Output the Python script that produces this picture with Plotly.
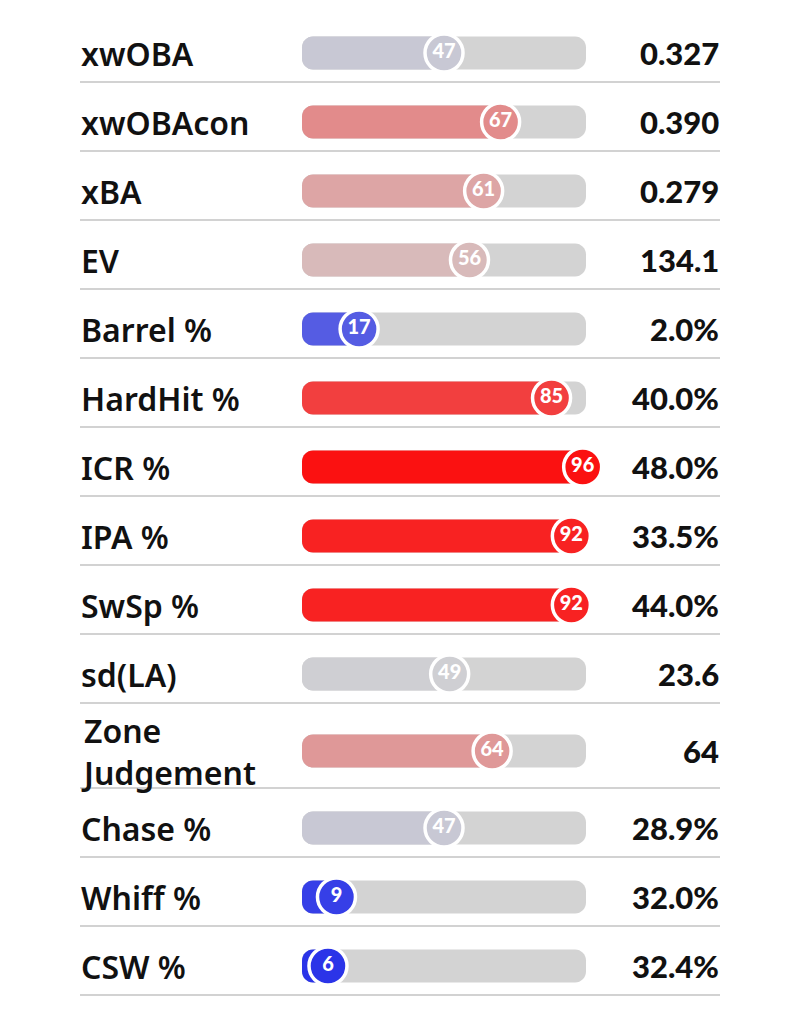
import plotly.graph_objects as go
from plotly.colors import sample_colorscale

# ---- data ----
metrics = ["xwOBA", "xwOBAcon", "xBA", "EV", "Barrel %", "HardHit %", "ICR %",
           "IPA %", "SwSp %", "sd(LA)", "Zone<br>Judgement", "Chase %", "Whiff %", "CSW %"]
percentiles = [47, 67, 61, 56, 17, 85, 96, 92, 92, 49, 64, 47, 9, 6]
values = ["0.327", "0.390", "0.279", "134.1", "2.0%", "40.0%", "48.0%",
          "33.5%", "44.0%", "23.6", "64", "28.9%", "32.0%", "32.4%"]

# ---- style / layout ----
W, H = 800, 1021
PX0, PXS = 311.0, 2.83          # pixel of percentile 0, pixels per percentile unit
xrange_ = [-PX0 / PXS, (W - PX0) / PXS]
BAR_X0 = (302 - PX0) / PXS
BAR_X1 = (586 - PX0) / PXS
BAR_H = 33
RAD_PX = 11
RX = RAD_PX / PXS
colorscale = [[0.0, "rgb(20,30,235)"], [0.5, "rgb(211,211,211)"], [1.0, "rgb(255,0,0)"]]
LABEL_FONT = dict(family="Noto Sans", size=32, color="#111111", weight=600)
VALUE_FONT = dict(family="Lato", size=31, color="#111111", weight=900)

# row geometry
tops, centers, bottoms = [], [], []
y = 13
for m in metrics:
    n_lines = m.count("<br>") + 1
    h = 69 if n_lines == 1 else 85
    tops.append(y)
    centers.append(y + h / 2 + 5.5)
    bottoms.append(y + h)
    y += h


def rrect(x0, x1, y0, y1, rx, ry):
    k = 0.4477  # 1 - 0.5523
    return (f"M {x0+rx},{y0} L {x1-rx},{y0} "
            f"C {x1-rx*k},{y0} {x1},{y0+ry*k} {x1},{y0+ry} "
            f"L {x1},{y1-ry} "
            f"C {x1},{y1-ry*k} {x1-rx*k},{y1} {x1-rx},{y1} "
            f"L {x0+rx},{y1} "
            f"C {x0+rx*k},{y1} {x0},{y1-ry*k} {x0},{y1-ry} "
            f"L {x0},{y0+ry} "
            f"C {x0},{y0+ry*k} {x0+rx*k},{y0} {x0+rx},{y0} Z")


shapes = []
annotations = []
bar_colors = sample_colorscale(colorscale, [p / 100 for p in percentiles])

for i, (m, p, v) in enumerate(zip(metrics, percentiles, values)):
    cy = centers[i]
    y0, y1 = cy - BAR_H / 2, cy + BAR_H / 2
    # background track
    shapes.append(dict(type="path", path=rrect(BAR_X0, BAR_X1, y0, y1, RX, RAD_PX),
                       fillcolor="#d3d3d3", line=dict(width=0), layer="below",
                       xref="x", yref="y"))
    # filled part
    shapes.append(dict(type="path", path=rrect(BAR_X0, max(p, BAR_X0 + 2 * RX), y0, y1, RX, RAD_PX),
                       fillcolor=bar_colors[i], line=dict(width=0), layer="below",
                       xref="x", yref="y"))
    # separator
    shapes.append(dict(type="line", xref="paper", yref="y", x0=0.1, x1=0.9,
                       y0=bottoms[i], y1=bottoms[i], line=dict(color="#d2d2d2", width=2),
                       layer="below"))
    # label
    annotations.append(dict(x=0.1, xref="paper", y=cy, yref="y", text=m,
                            showarrow=False, xanchor="left", yanchor="middle",
                            align="left", font=LABEL_FONT, borderpad=0))
    # value
    annotations.append(dict(x=0.9, xref="paper", y=cy, yref="y", text=v,
                            showarrow=False, xanchor="right", yanchor="middle",
                            font=VALUE_FONT, borderpad=0))

fig = go.Figure()
fig.add_trace(go.Scatter(
    x=percentiles, y=centers, mode="markers+text",
    text=[str(p) for p in percentiles], textposition="middle center",
    textfont=dict(family="Lato", size=20, color="white", weight=900),
    marker=dict(size=38, color=percentiles, colorscale=colorscale, cmin=0, cmax=100,
                line=dict(color="white", width=3.5)),
    hoverinfo="skip", showlegend=False, cliponaxis=False,
))

fig.update_layout(
    width=W, height=H, margin=dict(l=0, r=0, t=0, b=0),
    paper_bgcolor="white", plot_bgcolor="white",
    xaxis=dict(range=xrange_, visible=False, fixedrange=True),
    yaxis=dict(range=[H, 0], visible=False, fixedrange=True),
    shapes=shapes, annotations=annotations, showlegend=False,
)

fig.write_html("out.html", config={"displayModeBar": False},
               post_script="document.body.style.margin='0';document.body.style.padding='0';")
